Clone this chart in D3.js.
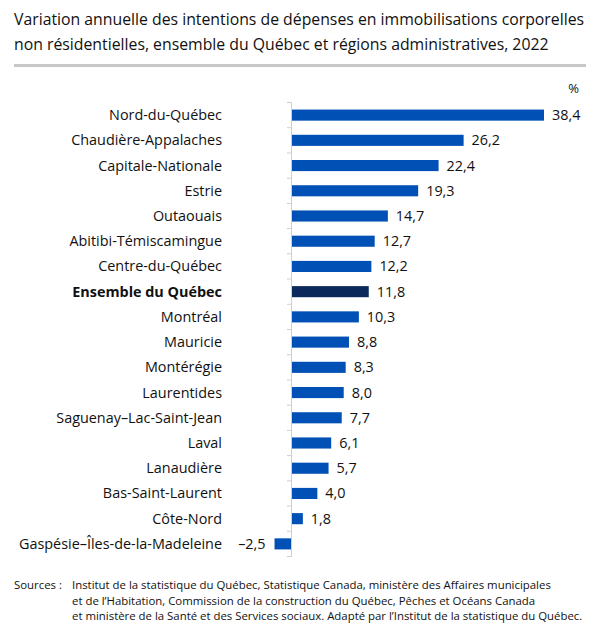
<!DOCTYPE html>
<html>
<head>
<meta charset="utf-8">
<script src="https://cdn.jsdelivr.net/npm/d3@7"></script>
<style>
  body { margin: 0; background: #fff; }
  svg { font-family: "Open Sans", "Noto Sans", sans-serif; }
</style>
</head>
<body>
<div id="chart"></div>
<script>
// data
const regions = [
  "Nord-du-Québec", "Chaudière-Appalaches", "Capitale-Nationale", "Estrie",
  "Outaouais", "Abitibi-Témiscamingue", "Centre-du-Québec", "Ensemble du Québec",
  "Montréal", "Mauricie", "Montérégie", "Laurentides", "Saguenay–Lac-Saint-Jean",
  "Laval", "Lanaudière", "Bas-Saint-Laurent", "Côte-Nord", "Gaspésie–Îles-de-la-Madeleine"
];
const values = [38.4, 26.2, 22.4, 19.3, 14.7, 12.7, 12.2, 11.8, 10.3, 8.8, 8.3, 8.0, 7.7, 6.1, 5.7, 4.0, 1.8, -2.5];
const highlight = "Ensemble du Québec";

const titleLines = [
  "Variation annuelle des intentions de dépenses en immobilisations corporelles",
  "non résidentielles, ensemble du Québec et régions administratives, 2022"
];
const sourceLines = [
  "Institut de la statistique du Québec, Statistique Canada, ministère des Affaires municipales",
  "et de l’Habitation, Commission de la construction du Québec, Pêches et Océans Canada",
  "et ministère de la Santé et des Services sociaux. Adapté par l’Institut de la statistique du Québec."
];

const W = 599, H = 632;
const svg = d3.select("#chart").append("svg")
  .attr("width", W).attr("height", H);

// title
svg.append("g").selectAll("text")
  .data(titleLines)
  .enter().append("text")
  .attr("x", 14)
  .attr("y", (d, i) => 25 + i * 25)
  .attr("font-size", 15.8)
  .attr("fill", "#111")
  .text(d => d);

svg.append("rect")
  .attr("x", 14).attr("y", 64)
  .attr("width", 572).attr("height", 3)
  .attr("fill", "#c8c8c8");

svg.append("text")
  .attr("x", 579).attr("y", 93)
  .attr("text-anchor", "end")
  .attr("font-size", 13)
  .attr("fill", "#111")
  .text("%");

// scales
const x = d3.scaleLinear()
  .domain([0, 38.4])
  .range([291, 544]);

const y = d3.scaleBand()
  .domain(regions)
  .range([102.5, 556.5])
  .paddingInner(0.56)
  .paddingOuter(0.28);

const data = regions.map((r, i) => ({ region: r, value: values[i] }));

// bars
svg.append("g").selectAll("rect")
  .data(data)
  .enter().append("rect")
  .attr("x", d => x(Math.min(0, d.value)))
  .attr("y", d => y(d.region))
  .attr("width", d => Math.abs(x(d.value) - x(0)))
  .attr("height", y.bandwidth())
  .attr("fill", d => d.region === highlight ? "#0b2a5b" : "#0050b5");

// axis at zero with ticks between categories
const axis = svg.append("g").attr("stroke", "#cfcfcf").attr("stroke-width", 1);
axis.append("line")
  .attr("x1", x(0) + 0.5).attr("x2", x(0) + 0.5)
  .attr("y1", 102.5).attr("y2", 556.5);
axis.selectAll("line.tick")
  .data(d3.range(regions.length + 1))
  .enter().append("line")
  .attr("class", "tick")
  .attr("x1", x(0) - 4).attr("x2", x(0) + 0.5)
  .attr("y1", i => 102.5 + i * (454 / regions.length))
  .attr("y2", i => 102.5 + i * (454 / regions.length));

// category labels
const fmt = v => (v < 0 ? "–" : "") + d3.format(".1f")(Math.abs(v)).replace(".", ",");

svg.append("g").selectAll("text")
  .data(data)
  .enter().append("text")
  .attr("x", 222)
  .attr("y", d => y(d.region) + y.bandwidth() / 2)
  .attr("dy", "0.35em")
  .attr("text-anchor", "end")
  .attr("font-size", 14.4)
  .attr("font-weight", d => d.region === highlight ? "bold" : "normal")
  .attr("fill", "#111")
  .text(d => d.region);

// value labels
svg.append("g").selectAll("text")
  .data(data)
  .enter().append("text")
  .attr("x", d => d.value < 0 ? x(d.value) - 9 : x(d.value) + 8)
  .attr("y", d => y(d.region) + y.bandwidth() / 2)
  .attr("dy", "0.35em")
  .attr("text-anchor", d => d.value < 0 ? "end" : "start")
  .attr("font-size", 14.4)
  .attr("fill", "#111")
  .text(d => fmt(d.value));

// sources
svg.append("text")
  .attr("x", 14).attr("y", 589)
  .attr("font-size", 11.4)
  .attr("fill", "#111")
  .text("Sources :");

svg.append("g").selectAll("text")
  .data(sourceLines)
  .enter().append("text")
  .attr("x", 72)
  .attr("y", (d, i) => 589 + i * 15.5)
  .attr("font-size", 11.4)
  .attr("fill", "#111")
  .text(d => d);
</script>
</body>
</html>
